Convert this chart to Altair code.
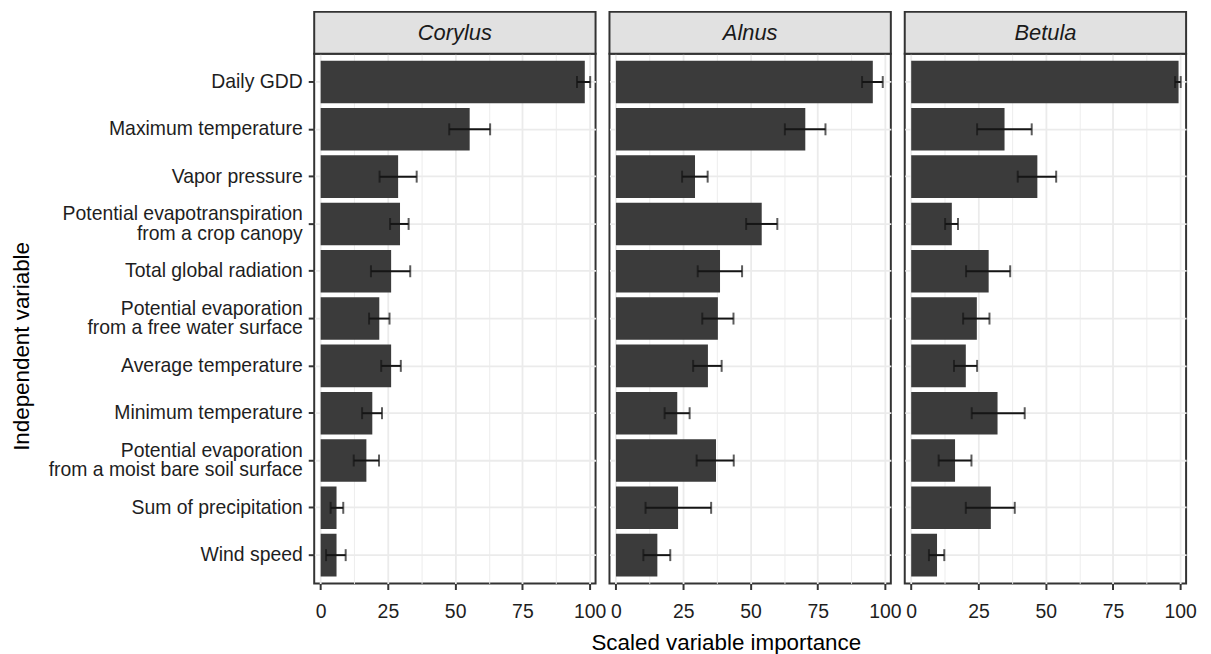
import altair as alt
import pandas as pd

variables = [
    "Daily GDD",
    "Maximum temperature",
    "Vapor pressure",
    "Potential evapotranspiration\nfrom a crop canopy",
    "Total global radiation",
    "Potential evaporation\u00a0\nfrom a free water surface",
    "Average temperature",
    "Minimum temperature",
    "Potential evaporation\u00a0\nfrom a moist bare soil surface",
    "Sum of precipitation",
    "Wind speed",
]
species = ["Corylus", "Alnus", "Betula"]

corylus_mean = [98.2, 55.4, 28.8, 29.5, 26.2, 21.8, 26.2, 19.2, 17.0, 5.9, 5.9]
corylus_lo = [95.3, 47.8, 21.9, 25.8, 18.7, 18.0, 22.5, 15.4, 12.3, 3.7, 2.0]
corylus_hi = [100.2, 63.0, 35.7, 32.7, 33.3, 25.6, 29.8, 22.8, 21.7, 8.4, 9.3]

alnus_mean = [95.5, 70.4, 29.4, 54.2, 38.7, 37.9, 34.2, 22.8, 37.2, 23.1, 15.4]
alnus_lo = [91.5, 62.8, 24.6, 48.4, 30.4, 32.1, 28.7, 18.1, 30.0, 11.0, 10.2]
alnus_hi = [99.2, 77.9, 34.1, 60.0, 46.9, 43.7, 39.3, 27.4, 43.8, 35.4, 20.2]

betula_mean = [99.4, 34.7, 46.9, 15.1, 28.8, 24.4, 20.3, 32.1, 16.3, 29.6, 9.6]
betula_lo = [98.1, 24.5, 39.6, 12.6, 20.4, 19.3, 15.9, 22.5, 10.2, 20.3, 6.6]
betula_hi = [100.2, 44.8, 53.9, 17.4, 36.8, 29.1, 24.5, 42.2, 22.4, 38.5, 12.3]

grid_values = [0, 12.5, 25, 37.5, 50, 62.5, 75, 87.5, 100]

series = {
    "Corylus": (corylus_mean, corylus_lo, corylus_hi),
    "Alnus": (alnus_mean, alnus_lo, alnus_hi),
    "Betula": (betula_mean, betula_lo, betula_hi),
}

rows = []
for sp in species:
    m, lo, hi = series[sp]
    for v, a, b, c in zip(variables, m, lo, hi):
        rows.append({"species": sp, "variable": v, "mean": a, "lo": b, "hi": c})
df = pd.DataFrame(rows)

FONT = "Liberation Sans"
W, H = 283, 533
STRIP_H = 42
BAR = "#3b3b3b"
ERR = "#151515"
BORDER = "#333333"
GRID = "#ebebeb"

is_major = "datum.value % 25 == 0"


def x_axis(title=None):
    kw = dict(
        values=grid_values,
        labelExpr="datum.value % 25 == 0 ? datum.label : ''",
        labelOverlap=False,
        labelFlush=False,
        labelFontSize=19.5,
        labelColor="#1e1e1e",
        labelPadding=13,
        tickSize=6,
        tickWidth=2,
        tickColor=BORDER,
        tickOpacity={"condition": {"test": is_major, "value": 1}, "value": 0},
        grid=True,
        gridColor=GRID,
        gridWidth={"condition": {"test": is_major, "value": 1.8}, "value": 0.9},
        domain=False,
    )
    if title:
        kw.update(title=title, titleFontSize=22.5, titleFontWeight="normal",
                  titleColor="#000000", titlePadding=11, titleX=117)
    else:
        kw.update(title=None)
    return alt.Axis(**kw)


def y_axis(first):
    kw = dict(
        bandPosition=0.5,
        grid=True,
        gridColor=GRID,
        gridWidth=1.8,
        domain=False,
    )
    if first:
        kw.update(
            title="Independent variable",
            titleFontSize=22.5,
            titleFontWeight="normal",
            titleColor="#000000",
            titleBaseline="alphabetic",
            titleX=-287,
            titleY=294,
            labelExpr="split(datum.label, '\\n')",
            labelFontSize=19.5,
            labelLineHeight=20,
            labelOffset={
                "condition": {"test": "indexof(datum.value, '\\n') >= 0", "value": -10},
                "value": 0,
            },
            labelColor="#1e1e1e",
            labelLimit=0,
            labelPadding=6,
            tickSize=6,
            tickWidth=2,
            tickColor=BORDER,
        )
    else:
        kw.update(title=None, labels=False, ticks=False)
    return alt.Axis(**kw)


def panel(sp, i):
    d = df[df["species"] == sp]
    xscale = alt.Scale(domain=[-2.4, 102.2], nice=False, zero=False)
    yscale = alt.Scale(domain=variables, paddingInner=0.1, paddingOuter=0.15)
    xa = x_axis("Scaled variable importance" if i == 1 else None)
    ya = y_axis(i == 0)
    y = alt.Y("variable:N", sort=variables, scale=yscale, axis=ya)
    base = alt.Chart(d)
    bars = base.mark_bar(color=BAR).encode(
        x=alt.X("mean:Q", scale=xscale, axis=xa), y=y
    )
    rule = base.mark_rule(color=ERR, strokeWidth=2).encode(
        x=alt.X("lo:Q", scale=xscale, axis=xa), x2="hi:Q", y=y
    )
    cap_lo = base.mark_tick(color=ERR, size=12, thickness=2).encode(
        x=alt.X("lo:Q", scale=xscale, axis=xa), y=y
    )
    cap_hi = base.mark_tick(color=ERR, size=12, thickness=2).encode(
        x=alt.X("hi:Q", scale=xscale, axis=xa), y=y
    )
    sdf = alt.Chart(pd.DataFrame({"species": [sp]}))
    strip_box = sdf.mark_rect(
        fill="#e1e1e1", stroke=BORDER, strokeWidth=2, clip=False
    ).encode(
        x=alt.value(0), x2=alt.value(W), y=alt.value(-STRIP_H), y2=alt.value(0)
    )
    strip_text = sdf.mark_text(
        font=FONT, fontSize=22, fontStyle="italic", color="#1a1a1a",
        baseline="middle", align="center"
    ).encode(
        text="species:N", x=alt.value(W / 2), y=alt.value(-STRIP_H / 2)
    )
    return alt.layer(strip_box, strip_text, bars, rule, cap_lo, cap_hi).properties(
        width=W, height=H,
        view=alt.ViewBackground(stroke=BORDER, strokeWidth=2),
    )


chart = alt.hconcat(
    *[panel(sp, i) for i, sp in enumerate(species)], spacing=14, bounds="flush"
).properties(
    padding={"left": 2, "top": 0, "right": 5, "bottom": 0}
).configure(
    font=FONT
).configure_axis(
    labelFont=FONT, titleFont=FONT
)

chart.save("out.html", embed_options={"renderer": "svg", "actions": False})
